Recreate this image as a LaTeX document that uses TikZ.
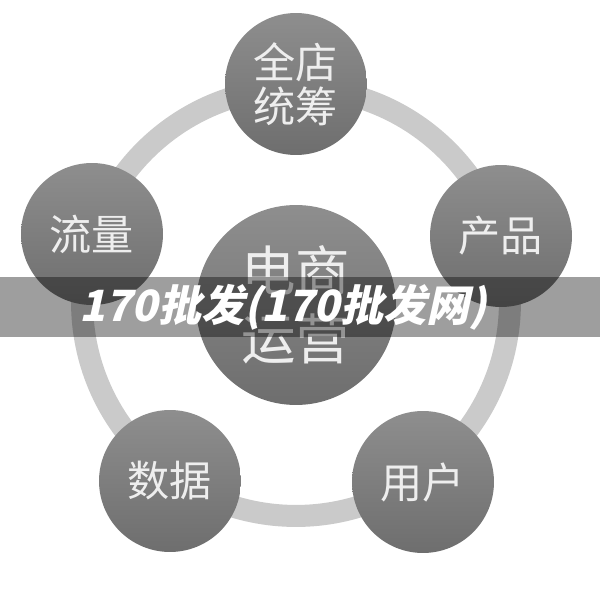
\documentclass[tikz,border=0pt]{standalone}
\usepackage{fontspec}
\usepackage{xcolor}
\usepackage{tikz}
\setmainfont{Noto Sans CJK SC}
\newfontfamily\handfont[FakeSlant=0.22]{Noto Sans CJK SC}
\definecolor{ringgray}{HTML}{CACACA}
\definecolor{circtop}{HTML}{8E8E8E}
\definecolor{circbot}{HTML}{6E6E6E}
\definecolor{labelgray}{HTML}{EEEEEE}

\begin{document}
\begin{tikzpicture}[x=0.02cm,y=-0.02cm,
    dot/.style={circle,inner sep=0pt,minimum size=2.84cm,top color=circtop,bottom color=circbot,
      text=labelgray,align=center,font=\fontsize{24}{25}\selectfont},
    hub/.style={dot,minimum size=4cm,font=\fontsize{31}{39}\selectfont}]
                  \useasboundingbox (0,0) rectangle (600,595);
                  \fill[white] (0,0) rectangle (600,595);
                  \draw[ringgray,line width=0.44cm] (296,302) circle [radius=4.28cm];
                  % five satellites and the hub
                  \node[dot] (plan) at (296,84) {全店\\统筹};
                  \node[dot] (traffic) at (92,234) {流量};
                  \node[dot] (product) at (501,236) {产品};
                  \node[dot] (data) at (170,481) {数据};
                  \node[dot] (user) at (423,482) {用户};
                  \node[hub] (core) at (296,305) {电商\\运营};
                  % banner
                  \fill[black,opacity=0.38] (0,277) rectangle (600,337);
                  \node[text=white,font=\handfont\bfseries\fontsize{24.5}{24.5}\selectfont] (title) at (283,307) {170批发(170批发网)};
              \end{tikzpicture}
\end{document}
